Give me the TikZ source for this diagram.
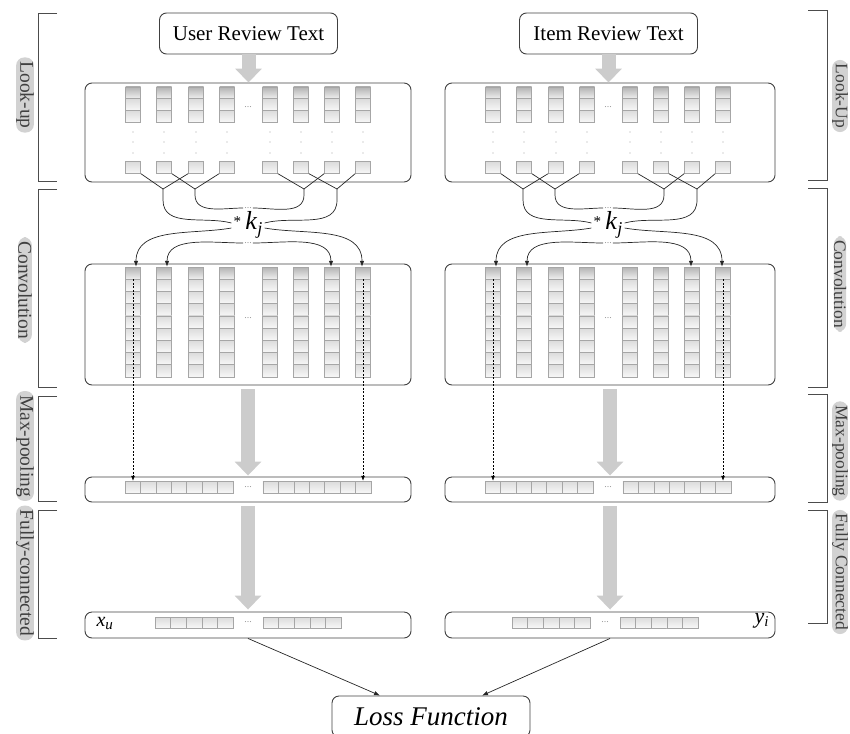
\documentclass[tikz,border=0pt]{standalone}
\usepackage{fontspec}
\setmainfont{Liberation Serif}
\usetikzlibrary{arrows.meta}
\begin{document}
\begin{tikzpicture}
[x=1pt,y=1pt,
  boxdecorate/.style={draw=black!75,rounded corners=7pt,line width=0.9pt,inner sep=0pt},
  celldecorate/.style={draw=gray!70,line width=0.5pt,top color=gray!28,bottom color=gray!6,minimum width=15pt,minimum height=11.7pt,inner sep=0pt},
  headdecorate/.style={celldecorate,top color=gray!60,bottom color=gray!12},
  flowdecorate/.style={draw=gray!40,line width=14pt,-{Triangle[width=26pt,length=14pt]}},
  linedecorate/.style={-,line width=0.7pt,draw=black!85},
  arrowdecorate/.style={line width=0.7pt,draw=black!85,-{Latex[length=6pt,width=4.5pt]}},
  pooldecorate/.style={line width=0.6pt,dash pattern=on 2pt off 1.5pt,-{Latex[length=5pt,width=4pt]}},
  dotsdecorate/.style={inner sep=1pt,text=gray!80,font=\fontsize{10}{10}\selectfont},
  tagdecorate/.style={rotate=-90,fill=gray!35,text=black!75,rounded corners=8pt,inner xsep=4pt,inner ysep=0pt,font=\fontsize{19.5}{19.5}\selectfont},
  righttag/.style={tagdecorate,font=\fontsize{17.5}{17.5}\selectfont},
  bracedecorate/.style={line width=0.9pt,draw=black!70}]
\useasboundingbox (0,0) rectangle (850,-733);
% the two columns: user and item
\foreach \cx/\side/\rw/\fcx/\txt in {248/u/163/248/User Review Text,608/i/167/605/Item Review Text}{
  % boxes
  \node (rt-\side) at (\cx+0.5,-33.5) [boxdecorate,minimum width=178pt,minimum height=41pt,font=\fontsize{21}{21}\selectfont] {\txt};
  \node (lk-\side) at ({\cx+(\rw-163)/2},-132.5) [boxdecorate,minimum width={163+\rw},minimum height=99pt] {};
  \node (cb-\side) at ({\cx+(\rw-163)/2},-324.5) [boxdecorate,minimum width={163+\rw},minimum height=121pt] {};
  \node (mb-\side) at ({\cx+(\rw-163)/2},-489.5) [boxdecorate,minimum width={163+\rw},minimum height=25pt] {};
  \node (fc-\side) at ({\cx+(\rw-163)/2},-625) [boxdecorate,minimum width={163+\rw},minimum height=26pt] {};
  % word vectors and feature maps
  \foreach \k/\dx in {1/-115,2/-84,3/-52,4/-21,5/22,6/53,7/84,8/115}{
    \node (lt-\side-\k) at (\cx+\dx,-92.8) [headdecorate] {};
    \node (la-\side-\k) at (\cx+\dx,-104.5) [celldecorate] {};
    \node (lc-\side-\k) at (\cx+\dx,-116.2) [celldecorate] {};
    \foreach \dy in {-132,-142,-153} \fill[gray!70] (\cx+\dx,\dy) circle (0.6pt);
    \node (lb-\side-\k) at (\cx+\dx,-167.5) [celldecorate] {};
    \node (cv-\side-\k) at (\cx+\dx,-273.1) [headdecorate,minimum height=12.2pt] {};
    \foreach \m in {1,...,8}
      \node (cm-\side-\k-\m) at (\cx+\dx,-273.1-12.2*\m) [celldecorate,minimum height=12.2pt] {};
  }
  \node (ld-\side) at (\cx,-107) [dotsdecorate] {...};
  \node (cd-\side) at (\cx,-318) [dotsdecorate] {...};
  % pooled and dense vectors
  \foreach \m in {1,...,7}
    \node (mp-\side-\m) at (\cx-123+15.43*\m-7.7,-487) [celldecorate,minimum width=15.43pt,minimum height=12pt] {};
  \foreach \m in {8,...,14}
    \node (mp-\side-\m) at (\cx+15+15.43*\m-115.74,-487) [celldecorate,minimum width=15.43pt,minimum height=12pt] {};
  \node (md-\side) at (\cx,-487) [dotsdecorate] {...};
  \foreach \m in {1,...,5}
    \node (fv-\side-\m) at (\fcx-93+15.6*\m-7.8,-622.5) [celldecorate,minimum width=15.6pt,minimum height=11pt] {};
  \foreach \m in {6,...,10}
    \node (fv-\side-\m) at (\fcx+15+15.6*\m-85.8,-622.5) [celldecorate,minimum width=15.6pt,minimum height=11pt] {};
  \node (fd-\side) at (\fcx,-622.5) [dotsdecorate] {...};
  % kernel
  \node (kj-\side) at (\cx,-225) [inner sep=2pt,font=\fontsize{26}{26}\selectfont] {\raisebox{3pt}{\fontsize{15}{15}\selectfont *}\,\textit{k}\raisebox{-5pt}{\fontsize{18}{18}\selectfont\textit{j}}};
  \node (dt-\side) at (\cx,-208) [dotsdecorate] {...};
  \node (db-\side) at (\cx,-243) [dotsdecorate] {...};
  \coordinate (j1-\side) at (\cx-85,-189);
  \coordinate (j2-\side) at (\cx-53,-189);
  \coordinate (j3-\side) at (\cx+56,-189);
  \coordinate (j4-\side) at (\cx+89,-189);
  % flow arrows
  \draw[flowdecorate] (rt-\side.south) -- (rt-\side.south |- lk-\side.north);
  \draw[flowdecorate] ([yshift=-4pt]cb-\side.south) -- ([yshift=1pt]mb-\side.north);
  \draw[flowdecorate] ([yshift=-4pt]mb-\side.south) -- ([yshift=2pt]fc-\side.north);
  % windows into the kernel
  \path
  (lb-\side-1.south east) edge[linedecorate] (j1-\side)
  (lb-\side-3.south west) edge[linedecorate] (j1-\side)
  (lb-\side-2.south east) edge[linedecorate] (j2-\side)
  (lb-\side-4.south west) edge[linedecorate] (j2-\side)
  (lb-\side-5.south east) edge[linedecorate] (j3-\side)
  (lb-\side-7.south west) edge[linedecorate] (j3-\side)
  (lb-\side-6.south east) edge[linedecorate] (j4-\side)
  (lb-\side-8.south west) edge[linedecorate] (j4-\side);
  \draw[linedecorate] (j1-\side) -- ++(0,-11) to[out=-90,in=165] ([yshift=2pt]kj-\side.west);
  \draw[linedecorate] (j2-\side) -- ++(0,-6) to[out=-90,in=180] (dt-\side.west);
  \draw[linedecorate] (j3-\side) -- ++(0,-6) to[out=-90,in=0] (dt-\side.east);
  \draw[linedecorate] (j4-\side) -- ++(0,-11) to[out=-90,in=15] ([yshift=2pt]kj-\side.east);
  % kernel into the feature maps
  \draw[arrowdecorate] ([yshift=-3pt]kj-\side.west) to[out=190,in=90] ([xshift=3pt]cv-\side-1.north);
  \draw[arrowdecorate] (db-\side.west) to[out=180,in=90] ([xshift=3pt]cv-\side-2.north);
  \draw[arrowdecorate] (db-\side.east) to[out=0,in=90] ([xshift=-1pt]cv-\side-7.north);
  \draw[arrowdecorate] ([yshift=-3pt]kj-\side.east) to[out=-10,in=90] ([xshift=-1pt]cv-\side-8.north);
  % max-pooling
  \draw[pooldecorate] (cv-\side-1.south) -- (cv-\side-1.south |- mp-\side-1.north);
  \draw[pooldecorate] (cv-\side-8.south) -- (cv-\side-8.south |- mp-\side-14.north);
}
% outputs and loss
\node (xu) at (93,-623) [anchor=west,font=\fontsize{20}{20}\selectfont] {\textit{x}\raisebox{-3pt}{\fontsize{15}{15}\selectfont\textit{u}}};
\node (yi) at (772,-621) [anchor=east,font=\fontsize{22}{22}\selectfont] {\textit{y}\raisebox{-3pt}{\fontsize{15}{15}\selectfont\textit{i}}};
\node (loss) at (431,-716.5) [boxdecorate,minimum width=198pt,minimum height=41pt,font=\fontsize{27}{27}\selectfont\itshape] {Loss Function};
\draw[arrowdecorate] (fc-u.south) -- ([xshift=-51pt]loss.north);
\draw[arrowdecorate] (fc-i.south) -- ([xshift=51pt]loss.north);
% layer brackets and tags
\foreach \ya/\yb in {13/181,189/387,396/501,510/638}
  \draw[bracedecorate] (57,-\ya) -- (38,-\ya) -- (38,-\yb) -- (57,-\yb);
\foreach \ya/\yb in {10/180,188/387,394/502,510/623}
  \draw[bracedecorate] (808,-\ya) -- (827,-\ya) -- (827,-\yb) -- (808,-\yb);
\foreach \y/\txt [count=\n] in {95/Look-up,290/Convolution,446/Max-pooling,573/Fully-connected}
  \node (tagl-\n) at (25,-\y) [tagdecorate] {\txt};
\foreach \y/\txt [count=\n] in {96/Look-Up,284/Convolution,451/Max-pooling,572/Fully Connected}
  \node (tagr-\n) at (840,-\y) [righttag] {\txt};
\end{tikzpicture}
\end{document}
